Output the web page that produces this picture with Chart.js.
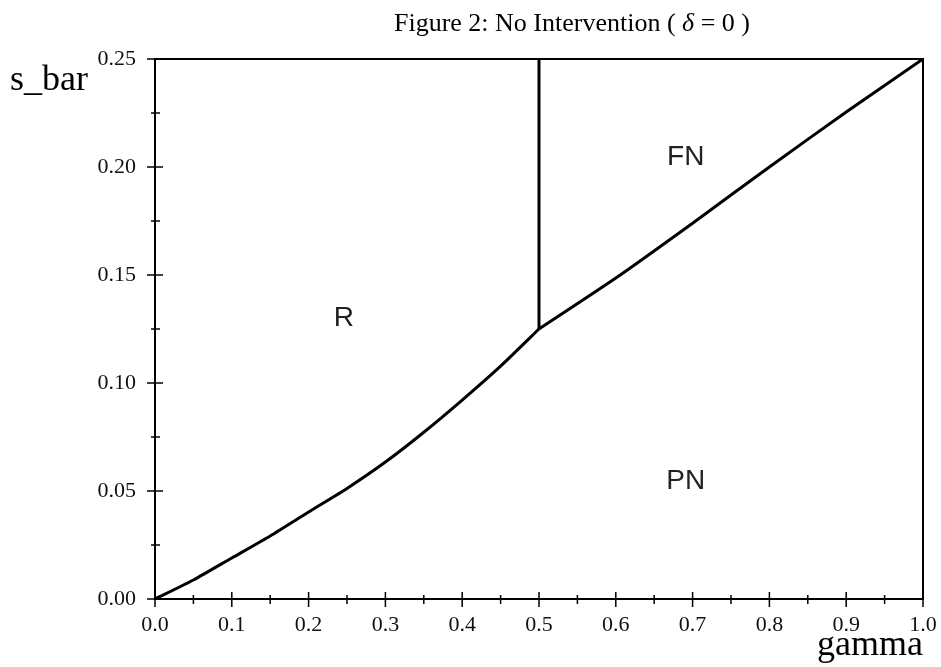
<!DOCTYPE html>
<html>
<head>
<meta charset="utf-8">
<script src="https://cdn.jsdelivr.net/npm/chart.js@4"></script>
<style>
  html, body { margin: 0; padding: 0; background: #fff; }
  #wrap { width: 941px; height: 667px; }
</style>
</head>
<body>
<div id="wrap"><canvas id="chart" width="941" height="667"></canvas></div>
<script>
// boundary between R and PN (gamma < 0.5)
const gammaLow = [0, 0.05, 0.1, 0.15, 0.2, 0.25, 0.3, 0.35, 0.4, 0.45, 0.5];
const sBarLow = [0, 0.0088, 0.019, 0.0292, 0.0403, 0.0512, 0.0634, 0.0772, 0.0921, 0.1078, 0.125];
// boundary between FN and PN (gamma > 0.5)
const gammaHigh = [0.5, 0.6, 0.7, 0.8, 0.9, 1.0];
const sBarHigh = [0.125, 0.1486, 0.174, 0.2, 0.2255, 0.25];
// vertical boundary between R and FN
const gammaVert = [0.5, 0.5];
const sBarVert = [0.125, 0.25];

const xTicks = [0, 0.1, 0.2, 0.3, 0.4, 0.5, 0.6, 0.7, 0.8, 0.9, 1.0];
const yTicks = [0, 0.05, 0.1, 0.15, 0.2, 0.25];

const regionNames = ['R', 'FN', 'PN'];
const regionGamma = [0.246, 0.691, 0.691];
const regionSBar = [0.130, 0.2046, 0.0546];

const toPts = (xs, ys) => xs.map((x, i) => ({ x: x, y: ys[i] }));

const lineStyle = {
  showLine: true,
  pointRadius: 0,
  borderColor: '#000',
  borderWidth: 3,
  fill: false
};

// frame, ticks, axis names, region labels, title
const decor = {
  id: 'decor',
  afterDraw(chart) {
    const ctx = chart.ctx;
    const a = chart.chartArea;
    const xs = chart.scales.x, ys = chart.scales.y;
    ctx.save();
    ctx.strokeStyle = '#000';
    ctx.lineWidth = 2;
    ctx.strokeRect(a.left, a.top, a.right - a.left, a.bottom - a.top);

    ctx.lineWidth = 1.5;
    ctx.beginPath();
    xTicks.forEach((v, i) => {
      const px = xs.getPixelForValue(v);
      ctx.moveTo(px, a.bottom - 7); ctx.lineTo(px, a.bottom + 8);
      if (i < xTicks.length - 1) {
        const mx = xs.getPixelForValue(v + 0.05);
        ctx.moveTo(mx, a.bottom - 4); ctx.lineTo(mx, a.bottom + 5);
      }
    });
    yTicks.forEach((v, i) => {
      const py = ys.getPixelForValue(v);
      ctx.moveTo(a.left - 8, py); ctx.lineTo(a.left + 8, py);
      if (i < yTicks.length - 1) {
        const my = ys.getPixelForValue(v + 0.025);
        ctx.moveTo(a.left - 4, my); ctx.lineTo(a.left + 5, my);
      }
    });
    ctx.stroke();

    ctx.fillStyle = '#000';
    ctx.font = '36px "Liberation Serif"';
    ctx.textBaseline = 'alphabetic';
    ctx.textAlign = 'left';
    ctx.fillText('s_bar', 10, 90);
    ctx.textAlign = 'right';
    ctx.fillText('gamma', 923, 655);

    ctx.font = '28px "Liberation Sans"';
    ctx.fillStyle = '#222';
    ctx.textAlign = 'center';
    ctx.textBaseline = 'middle';
    regionNames.forEach((n, i) => {
      ctx.fillText(n, xs.getPixelForValue(regionGamma[i]), ys.getPixelForValue(regionSBar[i]));
    });

    // title with italic delta
    ctx.fillStyle = '#000';
    ctx.textBaseline = 'alphabetic';
    ctx.textAlign = 'left';
    const parts = [
      ['Figure 2: No Intervention ( ', '26px "Liberation Serif"'],
      ['δ', 'italic 26px "Liberation Serif"'],
      [' = 0 )', '26px "Liberation Serif"']
    ];
    let total = 0;
    parts.forEach(p => { ctx.font = p[1]; total += ctx.measureText(p[0]).width; });
    let x = 572 - total / 2;
    parts.forEach(p => {
      ctx.font = p[1];
      ctx.fillText(p[0], x, 31);
      x += ctx.measureText(p[0]).width;
    });
    ctx.restore();
  }
};

new Chart(document.getElementById('chart'), {
  type: 'scatter',
  data: {
    datasets: [
      Object.assign({ data: toPts(gammaLow, sBarLow), tension: 0.2 }, lineStyle),
      Object.assign({ data: toPts(gammaHigh, sBarHigh), tension: 0.2 }, lineStyle),
      Object.assign({ data: toPts(gammaVert, sBarVert) }, lineStyle)
    ]
  },
  options: {
    responsive: false,
    animation: false,
    layout: { padding: { top: 59, right: 18, bottom: 0, left: 0 } },
    plugins: {
      legend: { display: false },
      title: { display: false },
      tooltip: { enabled: false }
    },
    scales: {
      x: {
        type: 'linear',
        min: 0,
        max: 1,
        grid: { display: false, drawTicks: false },
        border: { display: false },
        afterFit: s => { s.height = 68; s.paddingLeft = 0; s.paddingRight = 0; },
        afterBuildTicks: s => { s.ticks = xTicks.map(v => ({ value: v })); },
        ticks: {
          padding: 13,
          color: '#111',
          font: { family: 'Liberation Serif', size: 22 },
          maxRotation: 0,
          callback: v => v.toFixed(1)
        }
      },
      y: {
        type: 'linear',
        min: 0,
        max: 0.25,
        grid: { display: false, drawTicks: false },
        border: { display: false },
        afterFit: s => { s.width = 155; s.paddingTop = 0; s.paddingBottom = 0; },
        afterBuildTicks: s => { s.ticks = yTicks.map(v => ({ value: v })); },
        ticks: {
          padding: 19,
          color: '#111',
          font: { family: 'Liberation Serif', size: 22 },
          callback: v => v.toFixed(2)
        }
      }
    }
  },
  plugins: [decor]
});
</script>
</body>
</html>
